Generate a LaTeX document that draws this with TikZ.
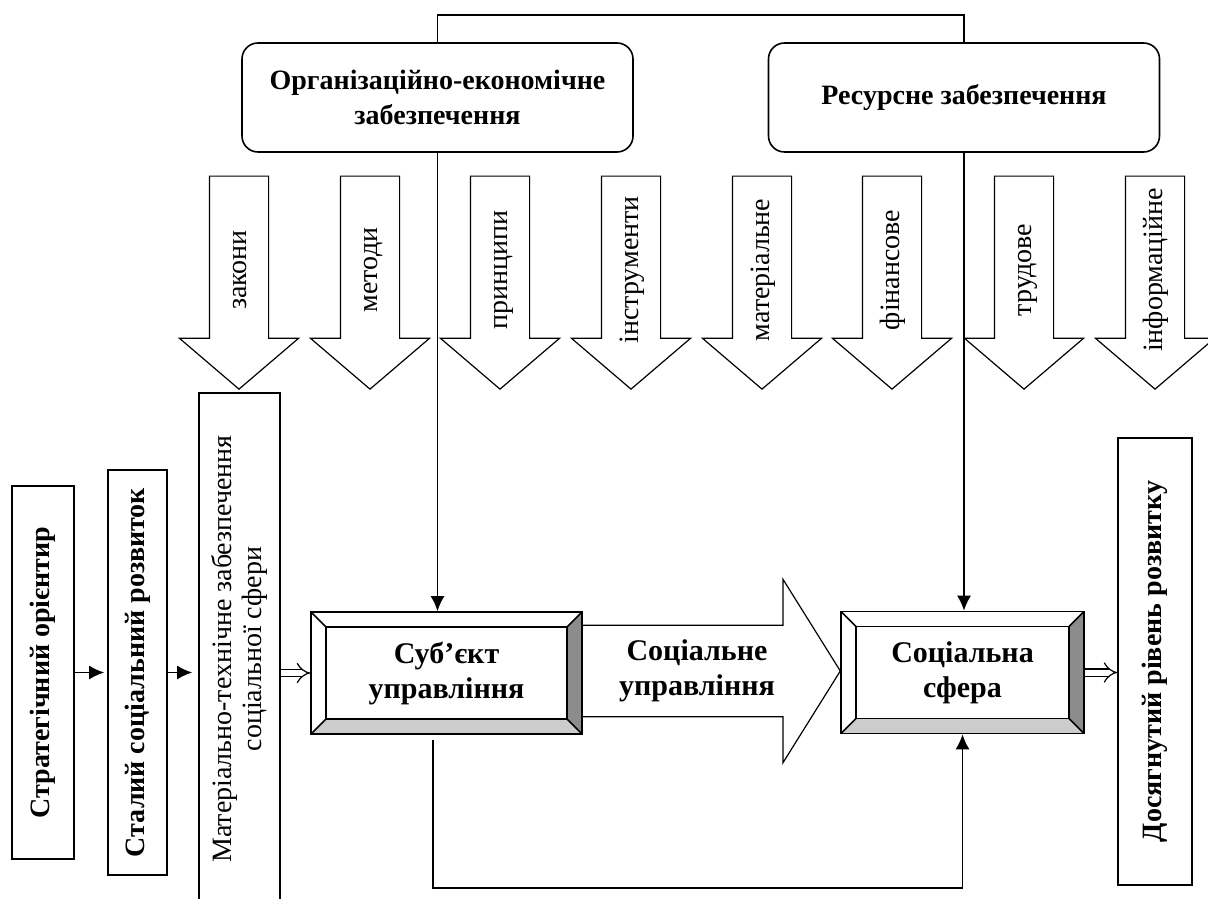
\documentclass[tikz,border=0pt]{standalone}
\usepackage{fontspec}
\setmainfont{Liberation Serif}
\usetikzlibrary{shapes.arrows, arrows, arrows.meta, calc, positioning}

\begin{document}
\begin{tikzpicture}[x=0.5pt, y=-0.5pt, >={Latex[length=7.5pt,width=7pt]},
  topbox/.style={draw, thick, rounded corners=8pt, minimum width=195.5pt, minimum height=54.5pt, align=center, font=\bfseries\fontsize{14}{17.5}\selectfont},
  sidebox/.style={draw, thick, rotate=90, align=center, font=\bfseries\fontsize{14}{17}\selectfont},
  downarrow/.style={single arrow, draw, semithick, rotate=90, shape border rotate=180, minimum height=106.5pt, single arrow head extend=15pt, single arrow tip angle=99, text height=10pt, text depth=3pt, inner ysep=8pt, font=\fontsize{14}{17}\selectfont},
  bevelbox/.style={draw, thick, minimum height=61pt, align=center, font=\bfseries\fontsize{15}{17.5}\selectfont,
    path picture={
      \coordinate (bsw) at (path picture bounding box.south west);
      \coordinate (bse) at (path picture bounding box.south east);
      \coordinate (bnw) at (path picture bounding box.north west);
      \coordinate (bne) at (path picture bounding box.north east);
      \fill[black!20] (bsw) -- (bse) -- ([shift={(-7.5pt,7.5pt)}]bse) -- ([shift={(7.5pt,7.5pt)}]bsw) -- cycle;
      \fill[black!45] (bse) -- (bne) -- ([shift={(-7.5pt,-7.5pt)}]bne) -- ([shift={(-7.5pt,7.5pt)}]bse) -- cycle;
      \draw[thick] ([shift={(7.5pt,7.5pt)}]bsw) rectangle ([shift={(-7.5pt,-7.5pt)}]bne);
      \draw (bsw) -- ([shift={(7.5pt,7.5pt)}]bsw);
      \draw (bse) -- ([shift={(-7.5pt,7.5pt)}]bse);
      \draw (bnw) -- ([shift={(7.5pt,-7.5pt)}]bnw);
      \draw (bne) -- ([shift={(-7.5pt,-7.5pt)}]bne);
    }},
  bigarrow/.style={single arrow, draw, semithick, minimum height=129pt, single arrow head extend=23pt, single arrow tip angle=116, inner ysep=7pt, align=center, font=\bfseries\fontsize{15}{17.5}\selectfont},
  dblarrow/.style={double, double distance=3pt, semithick, -implies}]
\useasboundingbox (0,0) rectangle (1208,898);

% upper level
\node[topbox] at (437.5,97.5) (orgbox) {Організаційно-економічне\\забезпечення};
\node[topbox] at (964,97.5) (resbox) {Ресурсне забезпечення};
\coordinate (topbar) at (700,15);
\draw[thick] (orgbox.north) |- (topbar) -| (resbox.north);

% block arrows
\node[downarrow] at (239,270) (zakony) {закони};
\node[downarrow] at (370,270) (metody) {методи};
\node[downarrow] at (500,270) (pryntsypy) {принципи};
\node[downarrow] at (631,270) (instrumenty) {інструменти};
\node[downarrow] at (762,270) (materialne) {матеріальне};
\node[downarrow] at (892,270) (finansove) {фінансове};
\node[downarrow] at (1024,270) (trudove) {трудове};
\node[downarrow] at (1155,270) (informatsiine) {інформаційне};

% left column (rotated: south is the right side)
\node[sidebox, minimum width=186.5pt, minimum height=31pt] at (43,672.5) (orient) {Стратегічний орієнтир};
\node[sidebox, minimum width=202.5pt, minimum height=29.5pt] at (137.5,672.5) (rozvytok) {Сталий соціальний розвиток};
\node[sidebox, font=\fontsize{14}{15}\selectfont, minimum width=256pt, minimum height=40.5pt] at (239.5,649) (mtz) {Матеріально-технічне забезпечення\\соціальної сфери};
\node[sidebox, minimum width=223.5pt, minimum height=37pt] at (1155,661.5) (dosyag) {Досягнутий рівень розвитку};

% middle
\node[bevelbox, minimum width=135.5pt] at (446.5,673) (subj) {Суб’єкт\\управління};
\node[bevelbox, minimum width=121.5pt] at (962.5,672.5) (sfera) {Соціальна\\сфера};
\node[bigarrow] at (697,671) (socupr) {Соціальне\\управління};

\draw[thick, ->, shorten >=1.5pt] (orient.south) -- (rozvytok.north);
\draw[thick, ->, shorten >=3pt] (rozvytok.south) -- (rozvytok.south -| mtz.north);
\draw[dblarrow] (mtz.south |- subj.west) -- (subj.west);
\draw[dblarrow] (sfera.east) -- (sfera.east -| dosyag.north);

\draw[thick, ->] (orgbox.south) -- (orgbox.south |- subj.north);
\draw[thick, ->] (resbox.south) -- (resbox.south |- sfera.north);

\coordinate (loopstart) at (433,740);
\coordinate (loopbottom) at (433,888);
\draw[thick, ->] (loopstart) -- (loopbottom) -| (sfera.south);
\end{tikzpicture}
\end{document}
